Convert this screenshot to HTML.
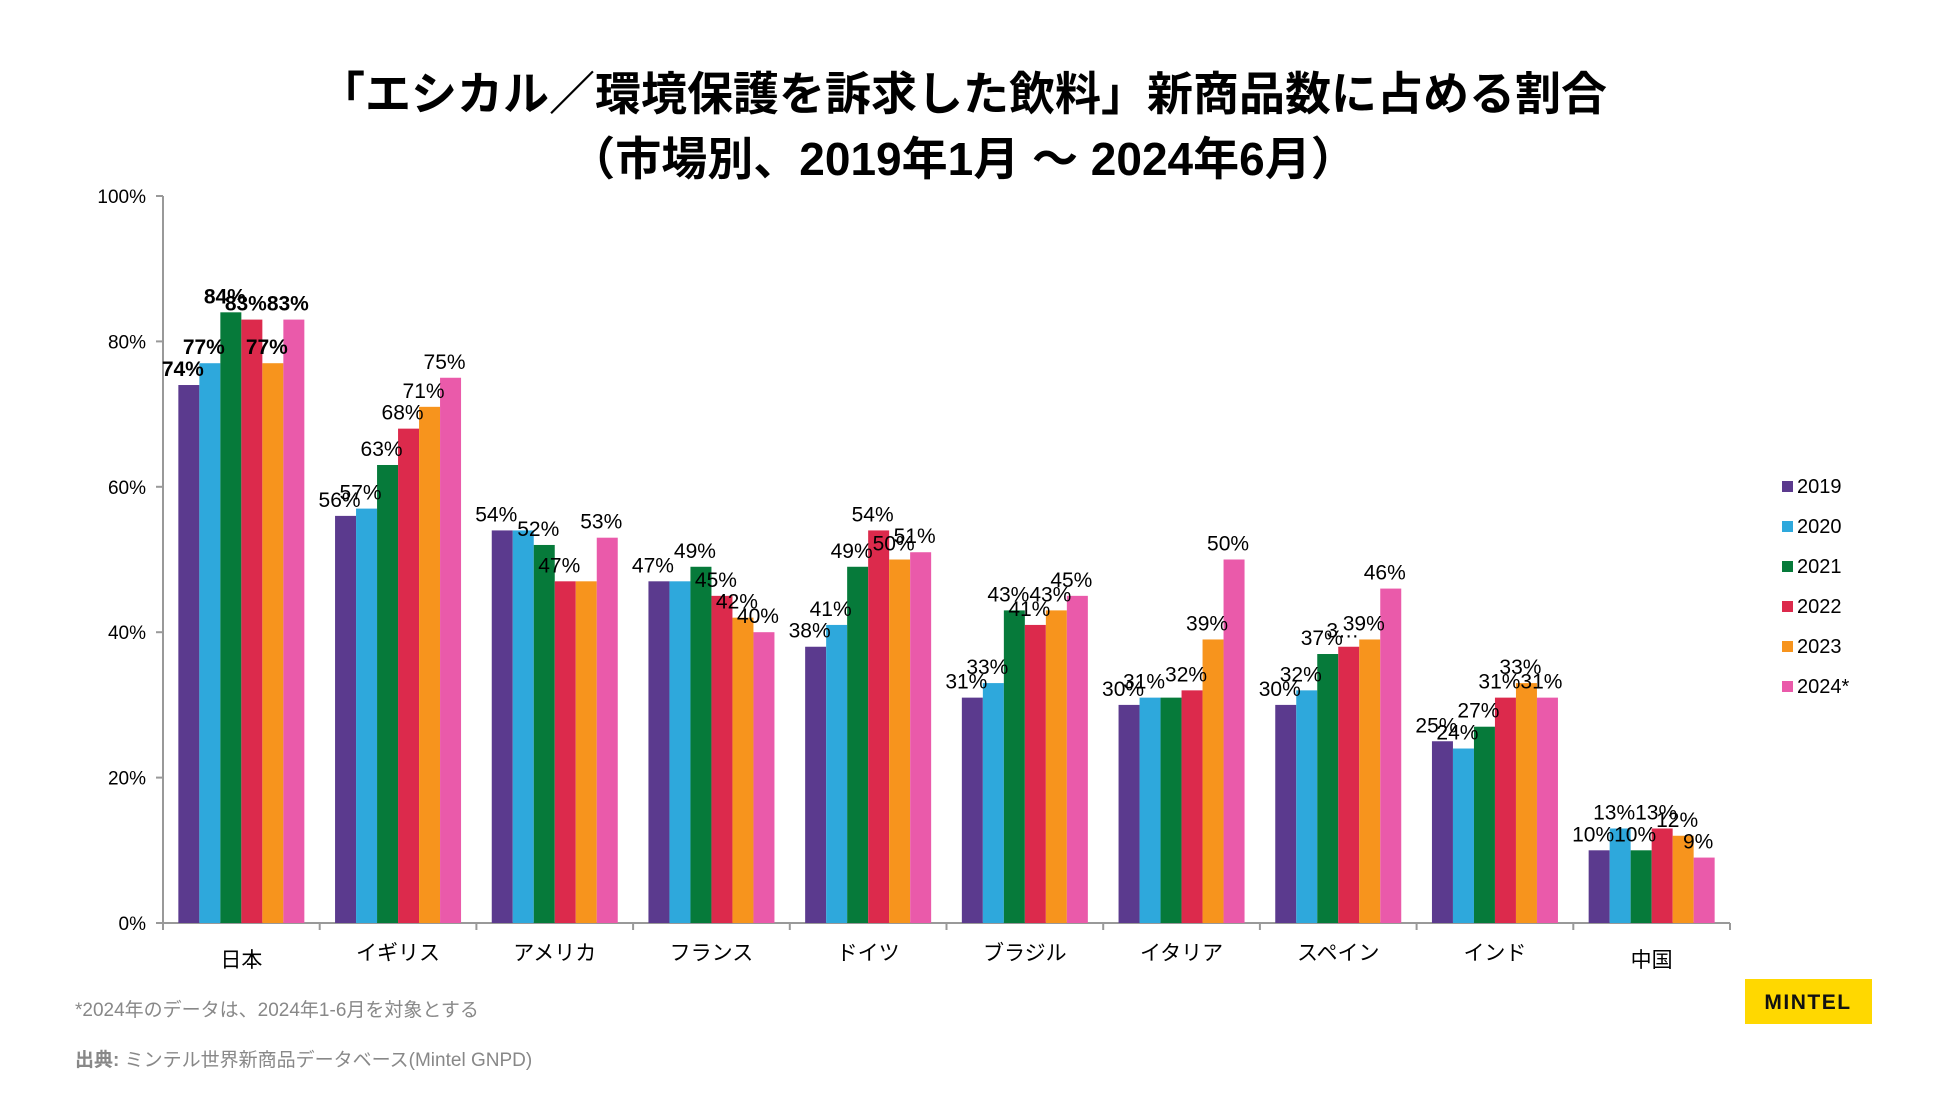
<!DOCTYPE html>
<html><head><meta charset="utf-8">
<style>
html,body{margin:0;padding:0;background:#fff;}
body{width:1950px;height:1097px;overflow:hidden;font-family:"Liberation Sans","Noto Sans CJK JP",sans-serif;}
svg text{font-family:"Liberation Sans","Noto Sans CJK JP",sans-serif;}
</style></head>
<body>
<svg id="chart" width="1950" height="1097" xmlns="http://www.w3.org/2000/svg">
<text x="963" y="110" text-anchor="middle" font-size="46" font-weight="bold" fill="#000">「エシカル／環境保護を訴求した飲料」新商品数に占める割合</text>
<text x="963" y="175" text-anchor="middle" font-size="46" font-weight="bold" fill="#000">（市場別、2019年1月 ～ 2024年6月）</text>
<g id="axes"></g>
<g id="bars"></g>
<g id="labels"></g>
<g id="legend"></g>
<text x="75" y="1016" font-size="19" fill="#888">*2024年のデータは、2024年1-6月を対象とする</text>
<text x="75" y="1066" font-size="19" fill="#888"><tspan font-weight="bold">出典:</tspan> ミンテル世界新商品データベース(Mintel GNPD)</text>
<rect x="1745" y="979" width="127" height="45" fill="#ffd800"/>
<text x="1808" y="1009" text-anchor="middle" font-size="21" font-weight="bold" letter-spacing="1.5" fill="#111">MINTEL</text>
</svg>
<script>
const categories = ["日本","イギリス","アメリカ","フランス","ドイツ","ブラジル","イタリア","スペイン","インド","中国"];
const seriesNames = ["2019","2020","2021","2022","2023","2024*"];
const s2019 = [74,56,54,47,38,31,30,30,25,10];
const s2020 = [77,57,54,47,41,33,31,32,24,13];
const s2021 = [84,63,52,49,49,43,31,37,27,10];
const s2022 = [83,68,47,45,54,41,32,38,31,13];
const s2023 = [77,71,47,42,50,43,39,39,33,12];
const s2024 = [83,75,53,40,51,45,50,46,31,9];
const yTicks = [0,20,40,60,80,100];
const colors = ["#5b3a8e","#2ea8dc","#067a3a","#dc2a4c","#f7941d","#ea5aaa"];
const series = [s2019,s2020,s2021,s2022,s2023,s2024];

const NS="http://www.w3.org/2000/svg";
const x0=163, x1=1730, yTop=196, yBot=923;
const gw=(x1-x0)/categories.length, bw=21, pad=(gw-bw*6)/2;
function y(v){return yBot-(v/100)*(yBot-yTop);}
function bx(ci,si){return x0+ci*gw+pad+si*bw;}
function mk(tag,attrs,parent,txt){const e=document.createElementNS(NS,tag);for(const k in attrs)e.setAttribute(k,attrs[k]);if(txt!==undefined)e.textContent=txt;parent.appendChild(e);return e;}

const axes=document.getElementById('axes');
let ya=mk('line',{x1:x0,y1:yTop,x2:x0,y2:yBot,stroke:'#999','stroke-width':2},axes);


let xa=mk('line',{x1:x0,y1:yBot,x2:x1,y2:yBot,stroke:'#999','stroke-width':2},axes);


yTicks.forEach(t=>{
  let tk=mk('line',{x1:x0-7,y1:y(t),x2:x0,y2:y(t),stroke:'#999','stroke-width':2},axes);
  
  
  let tl=mk('text',{x:x0-17,y:y(t)+7,'text-anchor':'end','font-size':19,fill:'#000'},axes,t+'%');
  
  
});
for(let i=0;i<=categories.length;i++){
  let tk=mk('line',{x1:x0+i*gw,y1:yBot,x2:x0+i*gw,y2:yBot+7,stroke:'#999','stroke-width':2},axes);
  
  
}
categories.forEach((c,i)=>{
  let tl=mk('text',{x:x0+i*gw+gw/2,y:i==0||i==9?967:960,'text-anchor':'middle','font-size':21,fill:'#000'},axes,c);
  
  
});
const bars=document.getElementById('bars'), labels=document.getElementById('labels');
series.forEach((s,si)=>{
  s.forEach((v,ci)=>{
    let r=mk('rect',{x:bx(ci,si),y:y(v),width:bw,height:yBot-y(v),fill:colors[si]},bars);
    
    
    // hide label when it would exactly overlap the previous bar's identical label (as in reference)
    if(ci>0 && si>0 && series[si-1][ci]===v && ci!==5 && ci!==9) return;
    let txt=(ci==7&&si==3)?'3…':v+'%';
    let l=mk('text',{x:bx(ci,si)+bw/2-6,y:y(v)-9,'text-anchor':'middle','font-size':21,fill:'#000','font-weight':ci==0?'bold':'normal'},labels,txt);
    
    
  });
});
const legend=document.getElementById('legend');
seriesNames.forEach((n,i)=>{
  let yy=487+i*40;
  let sq=mk('rect',{x:1782,y:yy-6,width:11,height:11,fill:colors[i]},legend);
  
  
  let t=mk('text',{x:1797,y:yy+6,'font-size':20,fill:'#000'},legend,n);
  
  
});
</script>
</body></html>
